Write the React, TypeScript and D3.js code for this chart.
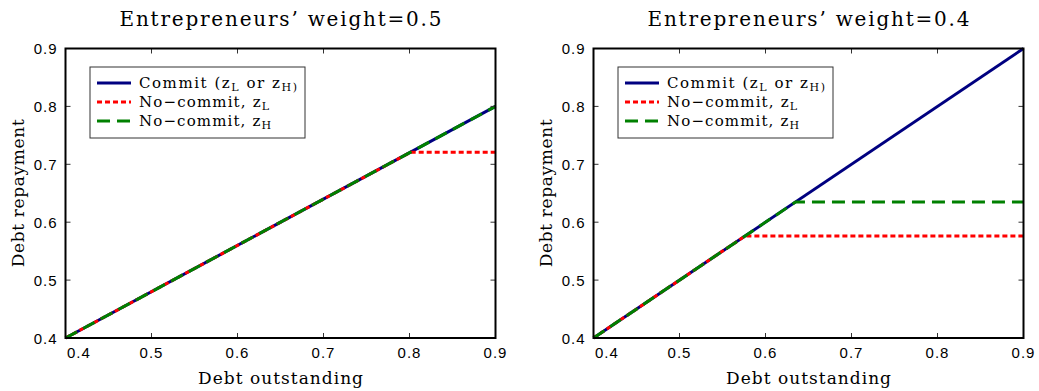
import React from "react";
import * as d3 from "d3";

// ---- data ----
const xTicks = [0.4, 0.5, 0.6, 0.7, 0.8, 0.9];
const yTicks = [0.4, 0.5, 0.6, 0.7, 0.8, 0.9];
const titles = ["Entrepreneurs\u2019 weight=0.5", "Entrepreneurs\u2019 weight=0.4"];

// panel 1 (weight 0.5)
const p1CommitX = [0.4, 0.9];
const p1CommitY = [0.4, 0.8];
const p1NoCommitLX = [0.4, 0.801, 0.9];
const p1NoCommitLY = [0.4, 0.7207, 0.7207];
const p1NoCommitHX = [0.4, 0.9];
const p1NoCommitHY = [0.4, 0.8];

// panel 2 (weight 0.4)
const p2CommitX = [0.4, 0.9];
const p2CommitY = [0.4, 0.9];
const p2NoCommitLX = [0.4, 0.576, 0.9];
const p2NoCommitLY = [0.4, 0.576, 0.576];
const p2NoCommitHX = [0.4, 0.635, 0.9];
const p2NoCommitHY = [0.4, 0.635, 0.635];

const seriesNames = ["Commit", "No\u2212commit", "No\u2212commit"];
const colors = ["#000080", "#ff0000", "#008000"];
const dashes = [null, "5,3", "13,7"];

const SERIF = "'DejaVu Serif', serif";
const SANS = "'Liberation Sans', Arial, sans-serif";

type PanelProps = {
  left: number;
  title: string;
  series: { x: number[]; y: number[] }[];
};

function Panel({ left, title, series }: PanelProps) {
  const top = 48.5;
  const bottom = 338;
  const width = 430;
  const x = d3.scaleLinear().domain([0.4, 0.9]).range([left, left + width]);
  const y = d3.scaleLinear().domain([0.4, 0.9]).range([bottom, top]);
  const line = d3
    .line<[number, number]>()
    .x((d) => x(d[0]))
    .y((d) => y(d[1]));
  const cx = left + width / 2;
  const cy = (top + bottom) / 2;
  const lgX = left + 24.5;
  const lgY = 67;
  const rowsY = [83, 102, 121];
  const textLens = [158, 130, 132];
  return (
    <g>
      <text x={cx} y={26} textAnchor="middle" fontFamily={SERIF} fontSize={20}
        textLength={322} lengthAdjust="spacing">{title}</text>
      {/* series */}
      {series.map((s, i) => (
        <path key={i}
          d={line(s.x.map((v, j) => [v, s.y[j]] as [number, number])) || ""}
          fill="none" stroke={colors[i]} strokeWidth={3}
          strokeDasharray={dashes[i] || undefined} />
      ))}
      {/* ticks */}
      {xTicks.map((t, i) => (
        <g key={"xt" + i}>
          <line x1={x(t)} x2={x(t)} y1={bottom} y2={bottom - 5} stroke="#333" strokeWidth={1} />
          <line x1={x(t)} x2={x(t)} y1={top} y2={top + 5} stroke="#333" strokeWidth={1} />
          <text x={i === 0 ? x(t) + 1.5 : x(t)} y={357.5} textAnchor={i === 0 ? "start" : "middle"}
            fontFamily={SANS} fontSize={15} letterSpacing={1}>{t.toFixed(1)}</text>
        </g>
      ))}
      {yTicks.map((t, i) => (
        <g key={"yt" + i}>
          <line x1={left} x2={left + 5} y1={y(t)} y2={y(t)} stroke="#333" strokeWidth={1} />
          <line x1={left + width} x2={left + width - 5} y1={y(t)} y2={y(t)} stroke="#333" strokeWidth={1} />
          <text x={left - 8} y={y(t) + 5.5} textAnchor="end"
            fontFamily={SANS} fontSize={15} letterSpacing={1}>{t.toFixed(1)}</text>
        </g>
      ))}
      <rect x={left} y={top} width={width} height={bottom - top} fill="none" stroke="#000" strokeWidth={2} />
      {/* axis labels */}
      <text x={cx} y={384} textAnchor="middle" fontFamily={SERIF} fontSize={17}
        textLength={165} lengthAdjust="spacing">Debt outstanding</text>
      <text transform={`translate(${left - 42},${cy}) rotate(-90)`} textAnchor="middle"
        fontFamily={SERIF} fontSize={17} textLength={148} lengthAdjust="spacing">Debt repayment</text>
      {/* legend */}
      <rect x={lgX} y={lgY} width={215} height={71} fill="#fff" stroke="#333" strokeWidth={1} />
      {rowsY.map((ry, i) => (
        <g key={"lg" + i}>
          <line x1={lgX + 7} x2={lgX + 41} y1={ry} y2={ry} stroke={colors[i]} strokeWidth={3}
            strokeDasharray={dashes[i] || undefined} />
          <text x={lgX + 49} y={ry + 4.5} fontFamily={SERIF} fontSize={15}
            textLength={textLens[i]} lengthAdjust="spacing">
            {i === 0 ? (
              <>
                {seriesNames[0] + " (z"}
                <tspan fontSize={11} dy={3}>L</tspan>
                <tspan dy={-3}>{" or z"}</tspan>
                <tspan fontSize={11} dy={3}>{"H)"}</tspan>
              </>
            ) : (
              <>
                {seriesNames[i] + ", z"}
                <tspan fontSize={11} dy={3}>{i === 1 ? "L" : "H"}</tspan>
              </>
            )}
          </text>
        </g>
      ))}
    </g>
  );
}

export default function App() {
  return (
    <svg width={1039} height={391} style={{ display: "block", position: "absolute", left: 0, top: 0 }}>
      <rect width={1039} height={391} fill="#fff" />
      <Panel left={65.5} title={titles[0]} series={[
        { x: p1CommitX, y: p1CommitY },
        { x: p1NoCommitLX, y: p1NoCommitLY },
        { x: p1NoCommitHX, y: p1NoCommitHY },
      ]} />
      <Panel left={593.5} title={titles[1]} series={[
        { x: p2CommitX, y: p2CommitY },
        { x: p2NoCommitLX, y: p2NoCommitLY },
        { x: p2NoCommitHX, y: p2NoCommitHY },
      ]} />
    </svg>
  );
}
